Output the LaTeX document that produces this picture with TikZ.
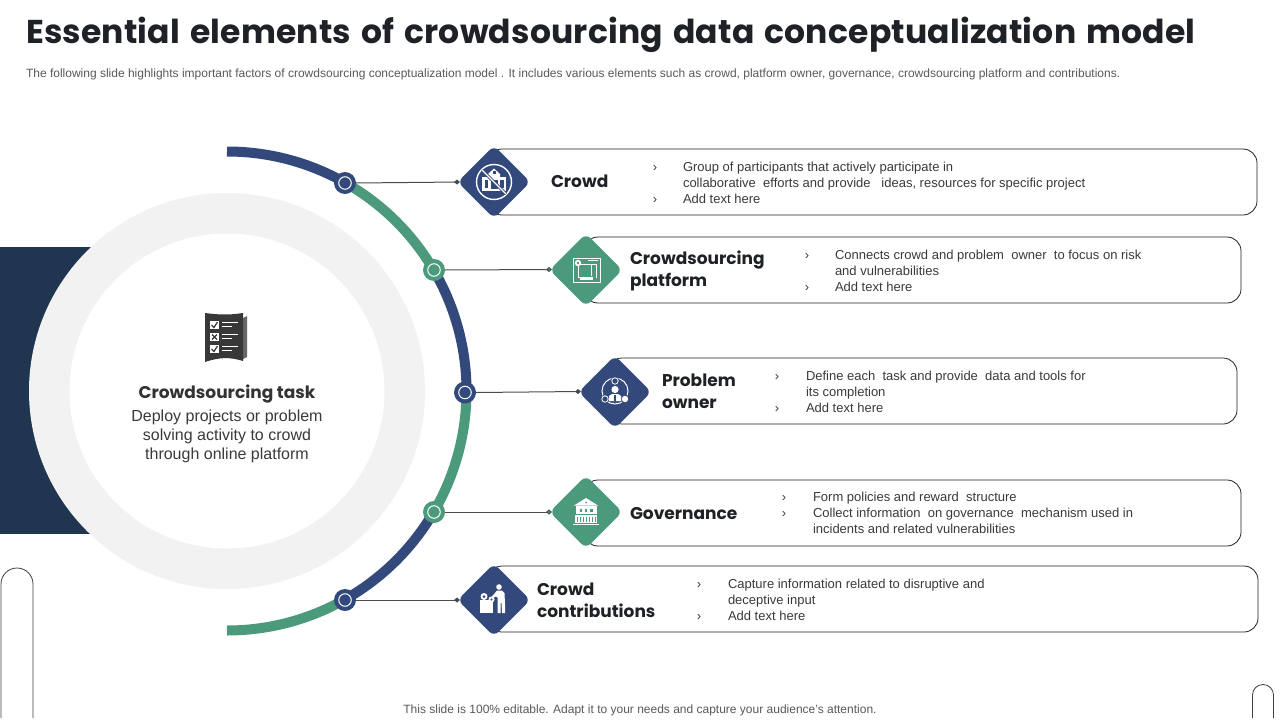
\documentclass[tikz,border=0pt]{standalone}
\usepackage{fontspec}
\setmainfont{Liberation Sans}
\newfontfamily\headfont[Ligatures=TeX]{Poppins}
\newfontfamily\titlefont[LetterSpace=0.6,WordSpace=1.4]{Poppins}
\usetikzlibrary{arrows.meta,shapes.geometric}
\definecolor{navy}{HTML}{34497B}
\definecolor{sea}{HTML}{4B9A7C}
\definecolor{deep}{HTML}{1F3550}
\definecolor{ringgray}{HTML}{F2F2F2}
\definecolor{ink}{HTML}{1E2126}
\definecolor{bodyt}{HTML}{3A3A3A}
\tikzset{
 every node/.style={inner sep=0pt,outer sep=0pt},
 arcseg/.style={line width=10pt,line cap=butt},
 hub/.style={circle,minimum size=22pt},
 hubin/.style={circle,draw=white,line width=1pt,minimum size=12.5pt},
 gem/.style={rectangle,rotate=45,minimum size=51.5pt,rounded corners=6.5pt},
 card/.style={draw=ink,line width=0.8pt,rounded corners=14pt,fill=white},
 link/.style={draw=black!70,line width=1pt,-{Diamond[length=6pt,width=5pt,fill=navy]}},
 linkg/.style={draw=black!70,line width=1pt,-{Diamond[length=6pt,width=5pt,fill=sea]}},
 head/.style={font=\headfont\bfseries\fontsize{17}{22}\selectfont,text=ink,anchor=west,align=left},
 desc/.style={font=\fontsize{13}{16}\selectfont,text=bodyt,anchor=north west,align=left},
 tick/.style={font=\fontsize{13}{13}\selectfont,text=bodyt,anchor=center},
 iconline/.style={draw=white,line width=1pt,fill=none},
 pill/.style={draw=black!75,line width=0.8pt}
}
\begin{document}
\begin{tikzpicture}[x=1pt,y=-1pt]
\useasboundingbox (0,0) rectangle (1280,720);
\fill[white] (0,0) rectangle (1280,720);
% title
\node[anchor=west,font=\titlefont\bfseries\fontsize{33}{40}\selectfont,text=ink] (title) at (26,35) {Essential elements of crowdsourcing data conceptualization model};
\node[anchor=west,font=\fontsize{12}{14}\selectfont,text=black!65] (sub) at (26,74.5) {The following slide highlights important factors of crowdsourcing conceptualization model . It includes various elements such as crowd, platform owner, governance, crowdsourcing platform and contributions.};
\node[anchor=center,font=\fontsize{12}{14}\selectfont,text=black!65] (foot) at (640,710) {This slide is 100\% editable. Adapt it to your needs and capture your audience's attention.};
% left band and ring
\fill[deep] (0,247) rectangle (150,534);
\fill[ringgray] (227,391) circle (198);
\fill[white] (227,391) circle (157.5);
% arcs (y axis flipped: angles measured clockwise on the page)
\def\R{239.5}
\draw[arcseg,navy] (227,391)++(-90:\R) arc (-90:-60.5:\R);
\draw[arcseg,sea] (227,391)++(-60.5:\R) arc (-60.5:-30:\R);
\draw[arcseg,navy] (227,391)++(-30:\R) arc (-30:0:\R);
\draw[arcseg,sea] (227,391)++(0:\R) arc (0:30:\R);
\draw[arcseg,navy] (227,391)++(30:\R) arc (30:60.5:\R);
\draw[arcseg,sea] (227,391)++(60.5:\R) arc (60.5:90:\R);
% cards
\draw[card] (488,149) rectangle (1257,215);
\draw[card] (584,237) rectangle (1241,303);
\draw[card] (608,358) rectangle (1237,424);
\draw[card] (584,480) rectangle (1241,546);
\draw[card] (488,566) rectangle (1258,632);
% hubs
\node[hub,fill=navy] (h1) at (345,183) {};
\node[hub,fill=sea] (h2) at (434,270) {};
\node[hub,fill=navy] (h3) at (465,392.5) {};
\node[hub,fill=sea] (h4) at (434,512) {};
\node[hub,fill=navy] (h5) at (345,600) {};
\foreach \h in {h1,h2,h3,h4,h5} \node[hubin] at (\h) {};
% gems
\node[gem,fill=navy] (g1) at (494,182) {};
\node[gem,fill=sea] (g2) at (586,270) {};
\node[gem,fill=navy] (g3) at (615,392) {};
\node[gem,fill=sea] (g4) at (586,512) {};
\node[gem,fill=navy] (g5) at (494,600) {};
% connector ends
\coordinate (e1) at (460,182);
\coordinate (e2) at (552,269.5);
\coordinate (e3) at (581,391.5);
\coordinate (e4) at (552,512);
\coordinate (e5) at (460,600);
\draw[link] (h1.east) -- (e1);
\draw[linkg] (h2.east) -- (e2);
\draw[link] (h3.east) -- (e3);
\draw[linkg] (h4.east) -- (e4);
\draw[link] (h5.east) -- (e5);
% icon: crowd
\begin{scope}[shift={(494,182)}]
\draw[draw=white,line width=1.4pt] (0,0) circle (17.5);
\fill[white] (-6,-8) -- (0,-13.5) -- (6,-8) -- (6,-5) -- (-6,-5) -- cycle;
\fill[white] (-12,-5) rectangle (12,9);
\fill[navy] (-9.5,-2.5) rectangle (-6,6);
\fill[navy] (6,-2.5) rectangle (9.5,6);
\fill[navy] (-3,-2) rectangle (3.5,7);
\fill[navy] (-1.5,-11) rectangle (1.5,-8);
\draw[draw=navy,line width=3pt] (-12,-12) -- (12,12);
\draw[draw=white,line width=1.2pt] (-12,-12) -- (12,12);
\end{scope}
% icon: platform
\begin{scope}[shift={(586,270)}]
\draw[iconline] (-13,-12) rectangle (14,12);
\draw[iconline] (-8,-6) -- (10,-6) -- (10,8);
\fill[white] (-8,-7) circle (3.2);
\fill[sea] (-8,-7) circle (1.3);
\draw[iconline] (-8,-5) -- (-8,7) -- (6,7);
\fill[white] (-6,7) rectangle (7,10);
\fill[white] (2,-10.5) rectangle (12,-9.2);
\draw[iconline] (5,-6) -- (5,6);
\end{scope}
% icon: problem owner
\begin{scope}[shift={(615,392)}]
\draw[iconline] (0,-1) circle (13);
\fill[navy] (0,-11) circle (4.5);
\fill[navy] (-10,7) circle (4.5);
\fill[navy] (10,7) circle (4.5);
\draw[draw=white,line width=0.8pt] (0,-11) circle (3.2);
\draw[draw=white,line width=0.8pt] (-10,7) circle (3.2);
\fill[white] (10,7) circle (3.2);
\fill[white] (0,-2.5) circle (3.6);
\fill[white] (-6,9) -- (-6,4) -- (-3,2) -- (3,2) -- (6,4) -- (6,9) -- cycle;
\fill[navy] (-0.8,3) rectangle (0.8,9);
\end{scope}
% icon: governance
\begin{scope}[shift={(586,512)}]
\fill[white] (-12,-6.5) -- (0,-14) -- (12,-6.5) -- cycle;
\fill[sea] (0,-9.5) circle (1);
\fill[white] (-10.5,-6) rectangle (10.5,2);
\fill[sea] (-6.5,-3.5) rectangle (-4,-0.5);
\fill[sea] (-1.2,-3.5) rectangle (1.2,-0.5);
\fill[sea] (4,-3.5) rectangle (6.5,-0.5);
\fill[white] (-11,3) rectangle (11,11);
\foreach \x in {-9,-6,-3,0,3,6,8.5} \fill[sea] (\x,4.5) rectangle (\x+0.8,10);
\fill[white] (-13,11.5) rectangle (13,13);
\end{scope}
% icon: contributions
\begin{scope}[shift={(494,600)}]
\fill[white] (-14,-0.5) rectangle (-1,13);
\fill[white] (-10,-3.5) circle (3.5);
\fill[navy] (-10,-3.5) circle (1.5);
\fill[white] (-2.5,-0.5) circle (3);
\fill[navy] (-2.5,-0.5) circle (1.2);
\fill[white] (5,-13) circle (2.8);
\fill[white] (3,-9.5) -- (8,-9.5) -- (10.5,-7) -- (11,4) -- (11,13) -- (8,13) -- (7.5,3) -- (6.7,3) -- (6.5,13) -- (3.5,13) -- (3.7,-2.5) -- (1.5,-3.5) -- (-1,-1.5) -- (-2.5,-3) -- (1,-7) -- cycle;
\end{scope}
% checklist icon
\begin{scope}[shift={(225,339)}]
\fill[black!60] (18,-21) -- (22,-23) -- (22,18) -- (16,21) -- cycle;
\fill[black!78] (-20,-26) .. controls (-5,-24) and (5,-24) .. (18,-26) -- (18,22) .. controls (5,18) and (-5,18) .. (-20,23) -- cycle;
\foreach \y in {-14,-2,10}{
 \fill[white] (-15,\y-4) rectangle (-6,\y+4);
 \fill[white] (-3,\y-3.2) rectangle (13,\y-1.6);
 \fill[white] (-3,\y+0.8) rectangle (7,\y+2.4);
}
\draw[draw=black!78,line width=1.2pt] (-13.5,-14) -- (-11,-11.5) -- (-7.5,-17);
\draw[draw=black!78,line width=1.2pt] (-13.5,10) -- (-11,12.5) -- (-7.5,7);
\draw[draw=black!78,line width=1.3pt] (-13,-4.5) -- (-8,0.5) (-13,0.5) -- (-8,-4.5);
\end{scope}
% centre text
\node[anchor=center,font=\headfont\bfseries\fontsize{17}{20}\selectfont,text=black!80] (ct) at (227,394) {Crowdsourcing task};
\node[anchor=north,align=center,font=\fontsize{16}{19}\selectfont,text=bodyt] (cd) at (227,409.5) {Deploy projects or problem\\solving activity to crowd\\through online platform};
% heads
\node[head] (t1) at (551,181.5) {Crowd};
\node[head] (t2) at (630,270.5) {Crowdsourcing\\platform};
\node[head] (t3) at (662,391) {Problem\\owner};
\node[head] (t4) at (630,513.5) {Governance};
\node[head] (t5) at (537,600) {Crowd\\contributions};
% descriptions
\node[desc] (d1) at (683,162) {Group of participants that actively participate in\\collaborative\ \ efforts and provide\ \ \ ideas, resources for specific project\\Add text here};
\node[desc] (d2) at (835,250) {Connects crowd and problem\ \ owner\ \ to focus on risk\\and vulnerabilities\\Add text here};
\node[desc] (d3) at (806,371) {Define each\ \ task and provide\ \ data and tools for\\its completion\\Add text here};
\node[desc] (d4) at (813,492) {Form policies and reward\ \ structure\\Collect information\ \ on governance\ \ mechanism used in\\incidents and related vulnerabilities};
\node[desc] (d5) at (728,579) {Capture information related to disruptive and\\deceptive input\\Add text here};
% ticks
\foreach \x/\y in {655/169,655/201,807/257,807/289,777/378,777/410,784/499,784/515,699/586,699/618}
 \node[tick] at (\x,\y) {›};
% open pills
\draw[pill] (1,718) -- (1,584) arc (180:360:16) -- (33,718);
\draw[pill] (1252.5,718) -- (1252.5,695) arc (180:360:10.5) -- (1273.5,718);
\end{tikzpicture}
\end{document}
